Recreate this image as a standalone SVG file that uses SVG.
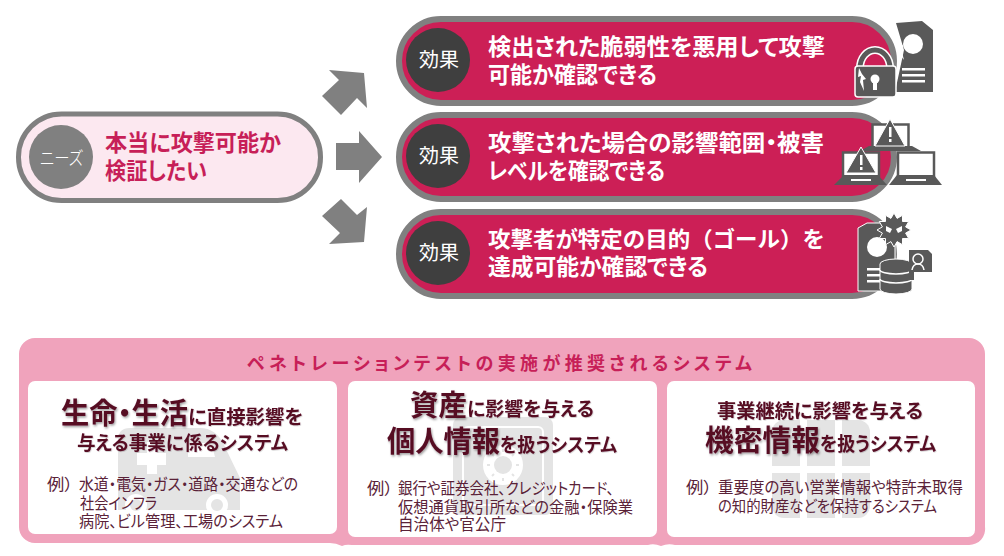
<svg xmlns="http://www.w3.org/2000/svg" width="1004" height="556" viewBox="0 0 1004 556">
<defs>
<style>
text{font-family:"Noto Sans CJK JP","Noto Sans",sans-serif;font-feature-settings:"palt"}
.pill{fill:#CC1F56;stroke:#808080;stroke-width:6}
.ico{fill:#595959}
.w{fill:#fff}
.eff{font-size:20px;fill:#fff;font-weight:400}
.et{font-size:23px;fill:#fff;font-weight:700}
.need{font-size:23px;fill:#C71F58;font-weight:700}
.big{font-size:29px;fill:#560A24;font-weight:700;filter:url(#sh)}
.mid{font-size:19px;fill:#560A24;font-weight:700;filter:url(#sh2)}
.ex{font-size:16px;fill:#5A2238;font-weight:400}
.bg{fill:#E4E4E4}
.box{fill:#fff}
</style>
<filter id="sh" x="-10%" y="-20%" width="120%" height="150%"><feDropShadow dx="1" dy="1.500" stdDeviation="1.200" flood-color="#000" flood-opacity=".4"/></filter>
<filter id="sh2" x="-10%" y="-20%" width="120%" height="150%"><feDropShadow dx=".6" dy=".8" stdDeviation=".7" flood-color="#000" flood-opacity=".2"/></filter>
</defs>
<rect width="1004" height="556" fill="#fff"/>
<g id="connectors" fill="#808080">
<polygon points="329,70 364,73 367,108 357,98 341,115 322,96 339,80"/>
<polygon points="336,143 359,143 359,131 382,157 359,183 359,170 336,170"/>
<polygon points="341,199 357,215 367,207 364,242 329,244 340,233 322,216"/>
</g>
<g id="need">
<rect x="18.500" y="114" width="302" height="86.500" rx="43" fill="#FCE8F0" stroke="#808080" stroke-width="5"/>
<circle cx="61" cy="157" r="32" fill="#808080"/>
<text x="40" y="165" font-size="18" fill="#fff" font-weight="300" textLength="43" lengthAdjust="spacingAndGlyphs">ニーズ</text>
<text class="need" x="105" y="151" textLength="176" lengthAdjust="spacingAndGlyphs">本当に攻撃可能か</text>
<text class="need" x="105" y="179" textLength="102" lengthAdjust="spacingAndGlyphs">検証したい</text>
</g>
<g id="effect1">
<rect class="pill" x="399" y="19" width="495" height="84" rx="42"/>
<circle cx="438" cy="60" r="32" fill="#3F3F3F"/>
<text class="eff" x="419" y="67">効果</text>
<text class="et" x="488" y="55" textLength="337" lengthAdjust="spacingAndGlyphs">検出された脆弱性を悪用して攻撃</text>
<text class="et" x="488" y="83" textLength="169" lengthAdjust="spacingAndGlyphs">可能か確認できる</text>
<polygon class="ico" points="896,23 922,21 933,30 933,92 895,92 904,50"/>
<circle class="w" cx="913" cy="44" r="10"/>
<rect class="w" x="902" y="68" width="23" height="2.500"/><rect class="w" x="902" y="74" width="23" height="2.500"/><rect class="w" x="902" y="80" width="23" height="2.500"/>
<polygon class="w" points="898,38 896,47 900,47 898,52 904,60 901,48 904,46 900,44"/>
<path d="M860,68 a15,18 0 0 1 30,0" fill="none" stroke="#fff" stroke-width="8"/>
<path d="M860,68 a15,18 0 0 1 30,0" fill="none" stroke="#595959" stroke-width="5"/>
<rect x="855" y="66" width="41" height="31" rx="3" fill="#595959" stroke="#fff" stroke-width="1.500"/>
<circle class="w" cx="875" cy="79" r="4.500"/><rect class="w" x="873" y="81" width="4" height="9"/>
<polygon class="w" points="859,68 858,77 861,76 860,82 864,91 863,80 866,79 862,74"/>
</g>
<g id="effect2">
<rect class="pill" x="399" y="115" width="495" height="84" rx="42"/>
<circle cx="438" cy="156" r="32" fill="#3F3F3F"/>
<text class="eff" x="419" y="163">効果</text>
<text class="et" x="488" y="151" textLength="336" lengthAdjust="spacingAndGlyphs">攻撃された場合の影響範囲・被害</text>
<text class="et" x="488" y="179" textLength="177" lengthAdjust="spacingAndGlyphs">レベルを確認できる</text>
<g fill="#fff" stroke="#595959" stroke-width="2.500">
<rect x="872.500" y="124.500" width="36" height="24"/>
<rect x="843" y="152.500" width="36" height="24"/>
<rect x="898" y="152.500" width="36" height="24"/>
</g>
<polygon class="ico" points="860,151 921,151 912,146 869,146"/>
<polygon class="ico" points="834,185 887,185 878,175 844,175"/>
<polygon class="ico" points="889,185 942,185 934,175 897,175"/>
<rect x="851" y="179" width="20" height="2" fill="#fff"/><rect x="906" y="179" width="20" height="2" fill="#fff"/>
<polygon class="ico" points="890,119 905,146 875,146" stroke="#fff" stroke-width="1"/>
<polygon class="ico" points="861,147 876,173 846,173" stroke="#fff" stroke-width="1"/>
<rect class="w" x="889" y="127" width="2.500" height="10"/><rect class="w" x="889" y="139" width="2.500" height="3"/>
<rect class="w" x="860" y="155" width="2.500" height="10"/><rect class="w" x="860" y="167" width="2.500" height="3"/>
</g>
<g id="effect3">
<rect class="pill" x="399" y="212" width="495" height="84" rx="42"/>
<circle cx="438" cy="253" r="32" fill="#3F3F3F"/>
<text class="eff" x="419" y="260">効果</text>
<text class="et" x="488" y="247" textLength="337" lengthAdjust="spacingAndGlyphs" style="font-feature-settings:normal;font-size:22px">攻撃者が特定の目的（ゴール）を</text>
<text class="et" x="488" y="275" textLength="220" lengthAdjust="spacingAndGlyphs">達成可能か確認できる</text>
<polygon class="ico" points="858,228 867,223 895,223 895,291 858,291" stroke="#fff" stroke-width="1"/>
<circle class="w" cx="877" cy="247" r="10"/>
<rect class="w" x="867" y="268" width="14" height="2.500"/><rect class="w" x="867" y="274" width="14" height="2.500"/><rect class="w" x="867" y="280" width="14" height="2.500"/>
<polygon class="ico" stroke="#fff" stroke-width="1" points="911,230 905.600,233.100 908.700,238.500 902.500,238.500 902.500,244.700 897.100,241.600 894,247 890.900,241.600 885.500,244.700 885.500,238.500 879.300,238.500 882.400,233.100 877,230 882.400,226.900 879.300,221.500 885.500,221.500 885.500,215.300 890.900,218.400 894,213 897.100,218.400 902.500,215.300 902.500,221.500 908.700,221.500 905.600,226.900"/>
<polygon class="w" points="886,226 892,229 890,233 886,231"/><polygon class="w" points="902,226 896,229 898,233 902,231"/>
<path class="ico" d="M880,264 a16,5 0 0 1 32,0 v25 a16,5 0 0 1 -32,0z" stroke="#fff" stroke-width="1"/>
<path d="M880,270 a16,4 0 0 0 32,0 M880,279 a16,4 0 0 0 32,0" fill="none" stroke="#fff" stroke-width="1.500"/>
<polygon class="ico" points="909,250 928,250 932,254 932,272 914,272 914,280 909,280"/>
<circle cx="918" cy="259" r="5" fill="none" stroke="#fff" stroke-width="1.500"/>
<path d="M912,270 q1,-6 6,-6 q5,0 6,6" fill="none" stroke="#fff" stroke-width="1.500"/>
</g>
<g id="panel">
<path d="M35,338 H969 a16,16 0 0 1 16,16 V527 a16,16 0 0 1 -16,18 H675 Q668,543 661,546 Q654,543 648,545 H352 Q346,544 342,546 Q336,543 330,543 H35 a16,16 0 0 1 -16,-16 V354 a16,16 0 0 1 16,-16z" fill="#F0A3BC"/>
<text x="247" y="370" font-size="18" font-weight="700" fill="#C71F58" textLength="505">ペネトレーションテストの実施が推奨されるシステム</text>
</g>
<g id="system1">
<rect class="box" x="28" y="381" width="309" height="153" rx="7"/>
<g class="bg">
<path d="M118,510 V440 Q118,428 130,428 H200 Q216,428 224,445 L240,478 V510z"/>
<circle cx="217" cy="505" r="11" fill="#fff"/><circle cx="217" cy="505" r="6"/>
<circle cx="136" cy="505" r="11" fill="#fff"/><circle cx="136" cy="505" r="6"/>
<path d="M147,442 h10 v11 h9 v12 h-9 v9 h-10 v-9 h-10 v-12 h10z" fill="#fff"/>
<path d="M188,443 h16 q8,0 11,14 h-27z" fill="#fff"/>
</g>
<text class="big" x="61" y="424" textLength="127" lengthAdjust="spacingAndGlyphs">生命・生活</text>
<text class="mid" x="188" y="424" textLength="115" lengthAdjust="spacingAndGlyphs">に直接影響を</text>
<text class="mid" x="77" y="450" textLength="211" lengthAdjust="spacingAndGlyphs">与える事業に係るシステム</text>
<text class="ex" x="47" y="490" textLength="26" lengthAdjust="spacingAndGlyphs">例）</text>
<text class="ex" x="79" y="490" textLength="219" lengthAdjust="spacingAndGlyphs">水道・電気・ガス・道路・交通などの</text>
<text class="ex" x="80" y="509" textLength="77" lengthAdjust="spacingAndGlyphs">社会インフラ</text>
<text class="ex" x="79" y="527" textLength="204" lengthAdjust="spacingAndGlyphs">病院、ビル管理、工場のシステム</text>
</g>
<g id="system2">
<rect class="box" x="348" y="381" width="309" height="156" rx="7"/>
<g class="bg">
<rect x="453" y="417" width="100" height="98" rx="8"/>
<rect x="463" y="427" width="80" height="78" rx="5" fill="none" stroke="#fff" stroke-width="2"/>
<circle cx="503" cy="465" r="20" fill="#fff"/><circle cx="503" cy="465" r="9"/>
<path d="M503,449 v3 M503,478 v3 M487,465 h3 M516,465 h3 M492,454 l2,2 M514,454 l-2,2 M492,476 l2,-2 M514,476 l-2,-2" stroke="#E4E4E4" stroke-width="2"/>
</g>
<text class="big" x="410" y="416" textLength="57" lengthAdjust="spacingAndGlyphs">資産</text>
<text class="mid" x="467" y="416" textLength="127" lengthAdjust="spacingAndGlyphs">に影響を与える</text>
<text class="big" x="387" y="452" textLength="113" lengthAdjust="spacingAndGlyphs">個人情報</text>
<text class="mid" x="500" y="452" textLength="117" lengthAdjust="spacingAndGlyphs">を扱うシステム</text>
<text class="ex" x="367" y="494" textLength="26" lengthAdjust="spacingAndGlyphs">例）</text>
<text class="ex" x="398" y="494" textLength="216" lengthAdjust="spacingAndGlyphs">銀行や証券会社、クレジットカード、</text>
<text class="ex" x="398" y="513" textLength="235" lengthAdjust="spacingAndGlyphs">仮想通貨取引所などの金融・保険業</text>
<text class="ex" x="398" y="530" textLength="108" lengthAdjust="spacingAndGlyphs">自治体や官公庁</text>
</g>
<g id="system3">
<rect class="box" x="667" y="381" width="308" height="156" rx="7"/>
<g class="bg">
<path d="M772,466 V432 a12,12 0 0 1 12,-12 H800 V466z"/><rect x="807" y="420" width="28" height="46"/><path d="M842,420 H858 a12,12 0 0 1 12,12 V466 H842z"/>
<path d="M772,473 V506 a12,12 0 0 0 12,12 H800 V473z"/><rect x="807" y="473" width="28" height="45"/><path d="M842,518 H858 a12,12 0 0 0 12,-12 V473 H842z"/>
</g>
<text class="mid" x="717" y="418" textLength="206" lengthAdjust="spacingAndGlyphs">事業継続に影響を与える</text>
<text class="big" x="705" y="451" textLength="115" lengthAdjust="spacingAndGlyphs">機密情報</text>
<text class="mid" x="820" y="451" textLength="116" lengthAdjust="spacingAndGlyphs">を扱うシステム</text>
<text class="ex" x="686" y="493" textLength="26" lengthAdjust="spacingAndGlyphs">例）</text>
<text class="ex" x="718" y="493" textLength="245" lengthAdjust="spacingAndGlyphs">重要度の高い営業情報や特許未取得</text>
<text class="ex" x="718" y="512" textLength="219" lengthAdjust="spacingAndGlyphs">の知的財産などを保持するシステム</text>
</g>
</svg>
